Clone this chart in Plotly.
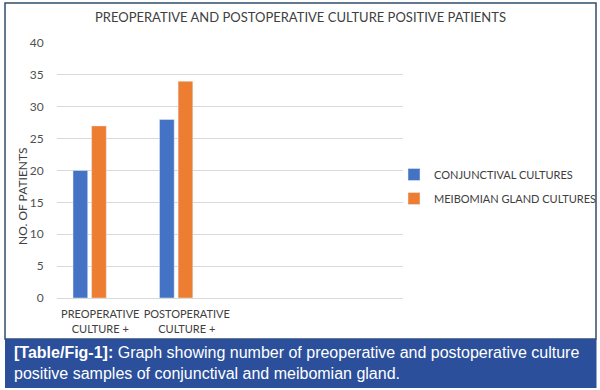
import plotly.graph_objects as go

categories = ["PREOPERATIVE<br>CULTURE +", "POSTOPERATIVE<br>CULTURE +"]
conjunctival = [20, 28]
meibomian = [27, 34]
series_names = ["CONJUNCTIVAL CULTURES", "MEIBOMIAN GLAND CULTURES"]
y_ticks = [0, 5, 10, 15, 20, 25, 30, 35, 40]

FONT = "Lato, 'Open Sans', sans-serif"
TXT = "#404040"

# pixel -> paper helpers (plot area: x 57..403, y 43..298)
L, R, T, B = 57, 197, 43, 92
W, H = 600, 390
PW, PH = W - L - R, H - T - B


def fx(px):
    return (px - L) / PW


def fy(py):
    return (H - B - py) / PH


fig = go.Figure()
fig.add_trace(go.Bar(x=categories, y=conjunctival, name=series_names[0],
                     marker_color="#4472C4", offset=-0.315, width=0.17,
                     legendgroup="a"))
fig.add_trace(go.Bar(x=categories, y=meibomian, name=series_names[1],
                     marker_color="#ED7D31", offset=-0.10, width=0.17,
                     legendgroup="b"))

fig.update_layout(
    width=W, height=H,
    margin=dict(l=L, r=R, t=T, b=B, pad=0, autoexpand=False),
    paper_bgcolor="white", plot_bgcolor="white",
    barmode="overlay",
    font=dict(family=FONT, color=TXT),
    showlegend=True,
    legend=dict(x=fx(394), xanchor="left", y=fy(160), yanchor="top",
                font=dict(size=11, color=TXT, family=FONT),
                tracegroupgap=5, traceorder="grouped",
                bgcolor="rgba(0,0,0,0)"),
    xaxis=dict(type="category", categoryorder="array", categoryarray=categories,
               range=[-0.5, 3.5], showgrid=False, showline=False, automargin=False,
               ticks="outside", ticklen=6, tickcolor="rgba(0,0,0,0)", tickangle=0,
               tickfont=dict(size=11, color=TXT, family=FONT)),
    yaxis=dict(range=[0, 40], tickvals=y_ticks, showgrid=True, automargin=False,
               gridcolor="#d9d9d9", gridwidth=1, zeroline=True,
               zerolinecolor="#d9d9d9", zerolinewidth=1, showline=False,
               ticks="outside", ticklen=10, tickcolor="rgba(0,0,0,0)",
               tickfont=dict(size=12, color="#505050", family=FONT)),
    shapes=[
        dict(type="rect", xref="paper", yref="paper",
             x0=fx(5), x1=fx(596), y0=fy(339), y1=fy(3),
             line=dict(color="#2f4d6b", width=1.5), fillcolor="rgba(0,0,0,0)",
             layer="below"),
        dict(type="rect", xref="paper", yref="paper",
             x0=fx(5), x1=fx(596.5), y0=fy(388), y1=fy(339),
             line=dict(width=0), fillcolor="#2b4f9b", layer="above"),
    ],
    annotations=[
        dict(text="PREOPERATIVE AND POSTOPERATIVE CULTURE POSITIVE PATIENTS",
             xref="paper", yref="paper", x=fx(300), y=fy(17),
             xanchor="center", yanchor="middle", showarrow=False,
             font=dict(size=13, color=TXT, family=FONT)),
        dict(text="NO. OF PATIENTS", textangle=-90,
             xref="paper", yref="paper", x=fx(22), y=fy(196),
             xanchor="center", yanchor="middle", showarrow=False,
             font=dict(size=12, color=TXT, family=FONT)),
        dict(text="<b>[Table/Fig-1]:</b> Graph showing number of preoperative and postoperative culture"
                  "<br>positive samples of conjunctival and meibomian gland.",
             xref="paper", yref="paper", x=fx(12), y=fy(363),
             xanchor="left", yanchor="middle", align="left", showarrow=False,
             font=dict(size=16, color="white",
                       family="'Liberation Sans', Arial, sans-serif")),
    ],
)

fig.write_html("out.html",
               config={"displayModeBar": False},
               post_script="document.body.style.margin='0px';"
                           "document.body.style.overflow='hidden';")
